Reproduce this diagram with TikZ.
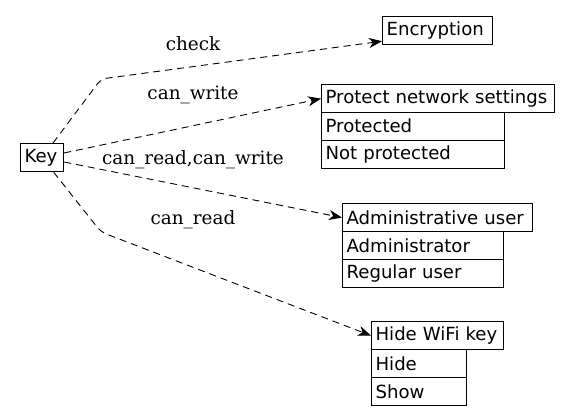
\documentclass[tikz,border=0pt]{standalone}
\usepackage{fontspec}
\setmainfont{DejaVu Serif}
\newfontfamily\boxfont{DejaVu Sans}
\usetikzlibrary{arrows.meta,calc}
\begin{document}
\begin{tikzpicture}[x=1pt,y=-1pt,
  rec/.style={draw, line width=1.2pt, inner xsep=4pt, inner ysep=0pt,
    minimum height=28pt, anchor=north west, align=left,
    font=\boxfont\fontsize{18.1}{20}\selectfont},
  lbl/.style={font=\fontsize{18.4}{20}\selectfont, inner sep=0pt},
  edge/.style={draw, line width=0.9pt, dash pattern=on 7pt off 5pt,
    rounded corners=6pt, -{Stealth[length=13pt,width=10pt,inset=4pt]}}]
\useasboundingbox (0,0) rectangle (569,415);
% Key
\node[rec, text width=35pt] (key) at (20,143) {Key};
% Encryption
\node[rec, text width=102pt] (enc) at (382,16) {Encryption};
% Protect network settings
\node[rec, text width=225pt] (pns) at (321,84) {Protect network settings};
\node[rec, text width=175pt] (pns1) at (321,111.5) {Protected};
\node[rec, text width=175pt] (pns2) at (321,139.5) {Not protected};
% Administrative user
\node[rec, text width=182pt] (adm) at (342,203) {Administrative user};
\node[rec, text width=153pt] (adm1) at (342,231) {Administrator};
\node[rec, text width=153pt] (adm2) at (342,259) {Regular user};
% Hide WiFi key
\node[rec, text width=124pt] (hide) at (371,321) {Hide WiFi key};
\node[rec, text width=87pt] (hide1) at (371,349) {Hide};
\node[rec, text width=87pt] (hide2) at (371,377) {Show};
% bends
\coordinate (c1) at (101,79);
\coordinate (c2) at (101,232);
\coordinate (encin) at ($(enc.south west)+(0,-4)$);
% edges
\draw[edge] (key) -- (c1) -- (encin);
\draw[edge] (key) -- (pns.west);
\draw[edge] (key) -- (adm.west);
\draw[edge] (key) -- (c2) -- (hide.west);
% labels
\node[lbl] (l1) at (193,44) {check};
\node[lbl] (l2) at (193,95) {can\_write};
\node[lbl] (l3) at (193,160) {can\_read,can\_write};
\node[lbl] (l4) at (193,220) {can\_read};
\end{tikzpicture}
\end{document}
